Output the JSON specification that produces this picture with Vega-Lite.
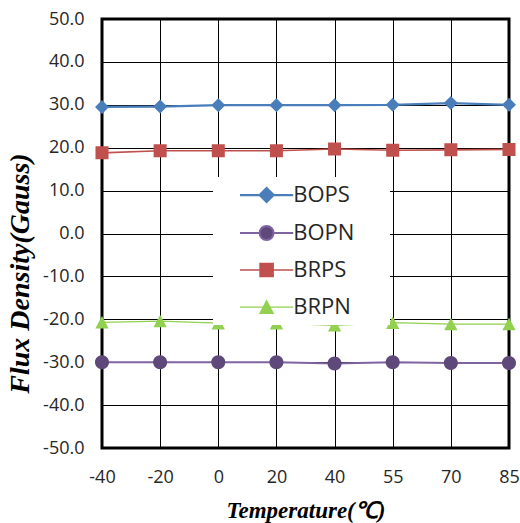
{
  "$schema": "https://vega.github.io/schema/vega-lite/v6.json",
  "width": 407,
  "height": 429,
  "autosize": {"type": "none"},
  "padding": {"left": 102, "top": 19, "right": 11, "bottom": 75},
  "background": "white",
  "config": {
    "view": {"stroke": "black", "strokeWidth": 3},
    "axis": {
      "grid": true, "gridColor": "black", "gridWidth": 1, "gridOpacity": 1,
      "domain": false, "ticks": false,
      "labelFont": "Open Sans", "labelFontSize": 18, "labelColor": "#262626",
      "titleFont": "Liberation Serif", "titleFontWeight": "bold", "titleFontStyle": "italic", "titleColor": "black"
    },
    "legend": {
      "orient": "none", "legendX": 111, "legendY": 158,
      "fillColor": "white", "padding": 7, "zindex": 1,
      "symbolSize": 196, "symbolOffset": 35.6, "labelOffset": 15.6,
      "labelFont": "Open Sans", "labelFontSize": 22, "labelColor": "#262626",
      "rowPadding": 15
    }
  },
  "data": {"values": [
    {"T": -40, "series": "BOPS", "v": 29.5}, {"T": -20, "series": "BOPS", "v": 29.6}, {"T": 0, "series": "BOPS", "v": 29.9}, {"T": 20, "series": "BOPS", "v": 29.9},
    {"T": 40, "series": "BOPS", "v": 29.9}, {"T": 55, "series": "BOPS", "v": 30.0}, {"T": 70, "series": "BOPS", "v": 30.4}, {"T": 85, "series": "BOPS", "v": 30.0},
    {"T": -40, "series": "BOPN", "v": -30.0}, {"T": -20, "series": "BOPN", "v": -30.0}, {"T": 0, "series": "BOPN", "v": -30.0}, {"T": 20, "series": "BOPN", "v": -30.0},
    {"T": 40, "series": "BOPN", "v": -30.3}, {"T": 55, "series": "BOPN", "v": -30.0}, {"T": 70, "series": "BOPN", "v": -30.2}, {"T": 85, "series": "BOPN", "v": -30.2},
    {"T": -40, "series": "BRPS", "v": 18.8}, {"T": -20, "series": "BRPS", "v": 19.3}, {"T": 0, "series": "BRPS", "v": 19.3}, {"T": 20, "series": "BRPS", "v": 19.3},
    {"T": 40, "series": "BRPS", "v": 19.7}, {"T": 55, "series": "BRPS", "v": 19.4}, {"T": 70, "series": "BRPS", "v": 19.5}, {"T": 85, "series": "BRPS", "v": 19.6},
    {"T": -40, "series": "BRPN", "v": -20.7}, {"T": -20, "series": "BRPN", "v": -20.4}, {"T": 0, "series": "BRPN", "v": -20.9}, {"T": 20, "series": "BRPN", "v": -20.9},
    {"T": 40, "series": "BRPN", "v": -21.4}, {"T": 55, "series": "BRPN", "v": -20.8}, {"T": 70, "series": "BRPN", "v": -21.1}, {"T": 85, "series": "BRPN", "v": -21.1}
  ]},
  "encoding": {
    "x": {
      "field": "T", "type": "ordinal", "sort": [-40, -20, 0, 20, 40, 55, 70, 85],
      "scale": {"type": "point", "padding": 0},
      "axis": {"labelAngle": 0, "labelPadding": 20, "title": "Temperature(\u2103)", "titleFontSize": 23, "titleY": 69, "titleBaseline": "alphabetic"}
    },
    "y": {
      "field": "v", "type": "quantitative",
      "scale": {"domain": [-50, 50], "nice": false, "zero": false},
      "axis": {"values": [-50, -40, -30, -20, -10, 0, 10, 20, 30, 40, 50], "format": ".1f", "labelPadding": 18,
        "labelExpr": "replace(datum.label, '\u2212', '-')",
        "title": "Flux Density(Gauss)", "titleFontSize": 28, "titleX": -74, "titleY": 254, "titleAngle": -90, "titleBaseline": "alphabetic", "titleAlign": "center"}
    }
  },
  "layer": [
    {
      "mark": {"type": "line"},
      "encoding": {
        "stroke": {"field": "series", "type": "nominal",
          "scale": {"domain": ["BOPS", "BOPN", "BRPS", "BRPN"], "range": ["#4A7EBB", "#8064A2", "#C0504D", "#92D050"]},
          "legend": {"title": null, "encode": {"symbols": {"update": {"stroke": {"scale": "stroke", "field": "value"}, "strokeWidth": {"scale": "strokeWidth", "field": "value"}}}}}},
        "strokeWidth": {"field": "series", "type": "nominal",
          "scale": {"domain": ["BOPS", "BOPN", "BRPS", "BRPN"], "range": [2.25, 1.25, 2.25, 2.25]},
          "legend": {"title": null, "encode": {"symbols": {"update": {"stroke": {"scale": "stroke", "field": "value"}, "strokeWidth": {"scale": "strokeWidth", "field": "value"}}}}}}
      }
    },
    {
      "mark": {"type": "point", "filled": true, "opacity": 1, "size": 196},
      "encoding": {
        "color": {"field": "series", "type": "nominal",
          "scale": {"domain": ["BOPS", "BOPN", "BRPS", "BRPN"], "range": ["#4A7EBB", "#5F497A", "#C0504D", "#92D050"]},
          "legend": {"title": null, "encode": {"symbols": {"update": {"stroke": {"scale": "stroke", "field": "value"}, "strokeWidth": {"scale": "strokeWidth", "field": "value"}}}}}},
        "shape": {"field": "series", "type": "nominal",
          "scale": {"domain": ["BOPS", "BOPN", "BRPS", "BRPN"], "range": [
            "M15.9,0M-3.8,0H3.8M-1,0L0,-1L1,0L0,1Z",
            "M15.9,0M-3.8,0H-1M1,0H3.8M1,0A1,1,0,1,1,-1,0A1,1,0,1,1,1,0Z",
            "M15.9,0M-3.8,0H3.8M-0.93,-0.93H0.93V0.93H-0.93Z",
            "M15.9,0M-3.8,0H3.8M0,-0.9L0.95,0.9L-0.95,0.9Z"
          ]},
          "legend": {"title": null, "encode": {"symbols": {"update": {"stroke": {"scale": "stroke", "field": "value"}, "strokeWidth": {"scale": "strokeWidth", "field": "value"}}}}}}
      }
    }
  ]
}
